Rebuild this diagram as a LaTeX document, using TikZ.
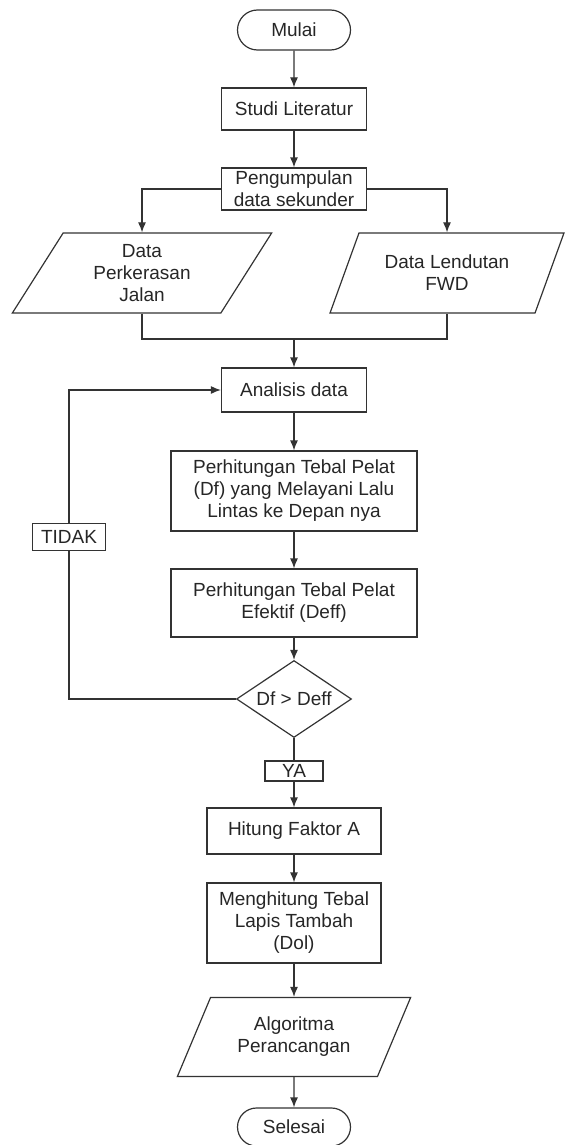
\documentclass[tikz,border=0pt]{standalone}
\usepackage{fontspec}
\setmainfont{Liberation Sans}
\usetikzlibrary{shapes.geometric,shapes.misc,arrows.meta}

\tikzset{
  base/.style={draw=black!80, line width=0.6pt, text=black!85, align=center,
    font=\fontsize{9.5}{11}\selectfont, inner sep=1pt},
  terminal/.style={base, rounded rectangle},
  proses/.style={base, rectangle},
  dataio/.style={base, trapezium, trapezium left angle=62, trapezium right angle=118,
    trapezium stretches=true},
  keputusan/.style={base, diamond, aspect=1.5},
  label/.style={base, rectangle, inner sep=0.5pt},
  arr/.style={draw=black!80, line width=0.6pt, -{Latex[length=5pt,width=4pt]}},
  garis/.style={draw=black!80, line width=0.6pt}
}

\begin{document}
\begin{tikzpicture}[x=0.5pt,y=-0.5pt]
\useasboundingbox (0,0) rectangle (564,1145);

% Start and input stage
\node[terminal, minimum width=58.5pt, minimum height=20pt] (mulai) at (294,30) {Mulai};
\node[proses, minimum width=72.5pt, minimum height=21pt] (studi) at (294,109) {Studi Literatur};
\node[proses, minimum width=72.5pt, minimum height=21pt, inner sep=0.5pt] (kumpul) at (294,189) {Pengumpulan\\data sekunder};
\node[dataio, minimum width=130pt, minimum height=40pt] (perkerasan) at (142,273) {Data\\Perkerasan\\Jalan};
\node[dataio, minimum width=118pt, minimum height=40pt] (lendutan) at (447,273) {Data Lendutan\\FWD};
\coordinate (gabung) at (294,339);

% Analysis stage
\node[proses, minimum width=72.5pt, minimum height=22pt] (analisis) at (294,390) {Analisis data};
\node[proses, minimum width=123pt, minimum height=40pt] (tebal) at (294,491) {Perhitungan Tebal Pelat\\(Df) yang Melayani Lalu\\Lintas ke Depan nya};
\node[proses, minimum width=123pt, minimum height=34pt] (efektif) at (294,603) {Perhitungan Tebal Pelat\\Efektif (Deff)};
\node[keputusan, minimum width=57.5pt, minimum height=38.5pt] (cek) at (294,699) {Df > Deff};
\node[label, minimum width=36.5pt, minimum height=13.5pt] (tidak) at (69,537) {TIDAK};
\node[label, minimum width=29pt, minimum height=10pt] (ya) at (294,771) {YA};

% Result stage
\node[proses, minimum width=87pt, minimum height=23pt] (faktor) at (294,831) {Hitung Faktor A};
\node[proses, minimum width=87pt, minimum height=40pt] (dol) at (294,923) {Menghitung Tebal\\Lapis Tambah\\(Dol)};
\node[dataio, minimum width=117pt, minimum height=39.5pt] (algoritma) at (294,1037) {Algoritma\\Perancangan};
\node[terminal, minimum width=58.5pt, minimum height=19pt] (selesai) at (294,1127) {Selesai};

% Connectors
\draw[arr] (mulai) -- (studi);
\draw[arr] (studi) -- (kumpul);
\draw[arr] (kumpul.west) -| (perkerasan.north);
\draw[arr] (kumpul.east) -| (lendutan.north);
\draw[garis] (perkerasan.south) |- (gabung) -| (lendutan.south);
\draw[arr] (gabung) -- (analisis);
\draw[arr] (analisis) -- (tebal);
\draw[arr] (tebal) -- (efektif);
\draw[arr] (efektif) -- (cek);

% Loop back when the check fails
\draw[garis] (cek.west) -| (tidak.south);
\draw[arr] (tidak.north) |- (analisis.west);

\draw[garis] (cek.south) -- (ya.north);
\draw[arr] (ya) -- (faktor);
\draw[arr] (faktor) -- (dol);
\draw[arr] (dol) -- (algoritma);
\draw[arr] (algoritma) -- (selesai);

\end{tikzpicture}
\end{document}
